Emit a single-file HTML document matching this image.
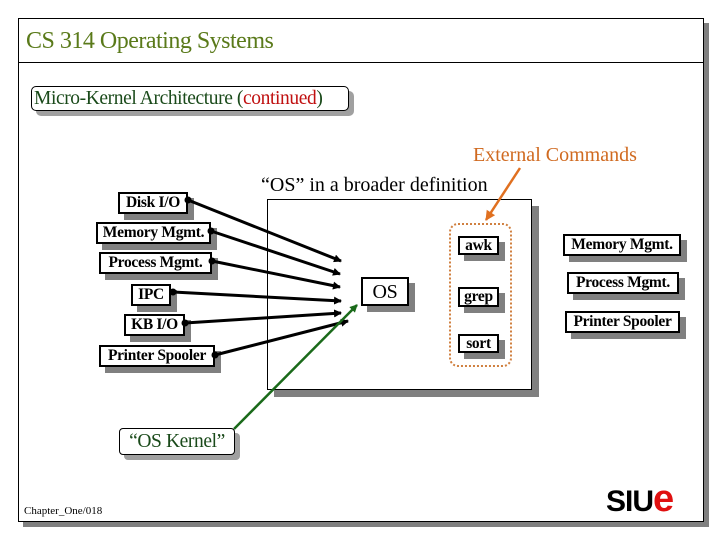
<!DOCTYPE html>
<html><head><meta charset="utf-8"><style>
body{margin:0;width:720px;height:540px;background:#fff;position:relative;overflow:hidden;font-family:"Liberation Serif",serif;}
.a{position:absolute;box-sizing:border-box;}
.bx{position:absolute;box-sizing:border-box;border:2px solid #000;background:#fff;box-shadow:6px 6px 0 #808080;font-weight:bold;font-size:15.5px;text-align:center;white-space:nowrap;line-height:17px;letter-spacing:-0.3px;}
</style></head><body>
<div class="a" style="left:18px;top:18px;width:686px;height:504px;border:1px solid #000;box-shadow:5px 5px 0 #808080;background:#fff"></div>
<div class="a" style="left:18px;top:62px;width:686px;height:1px;background:#000"></div>
<div class="a" style="left:26px;top:28px;font-size:24px;color:#5a7a1a;white-space:nowrap;letter-spacing:-0.5px">CS 314 Operating Systems</div>
<div class="a" style="left:31px;top:86px;width:318px;height:25px;border:1px solid #000;border-radius:5px;background:#fff;box-shadow:5px 5px 0 #a0a0a0;font-size:19.5px;color:#1a4a1a;white-space:nowrap;padding-left:2px;line-height:23px;letter-spacing:-0.4px">Micro-Kernel Architecture (<span style="color:#c01010">continued</span>)</div>
<div class="a" style="left:473px;top:144px;font-size:20px;color:#d06a20;white-space:nowrap">External Commands</div>
<div class="a" style="left:261px;top:174px;font-size:20px;white-space:nowrap">“OS” in a broader definition</div>

<div class="a" style="left:267px;top:199px;width:265px;height:191px;border:1px solid #000;background:#fff;box-shadow:7px 7px 0 #808080"></div>
<div class="a" style="left:449px;top:223px;width:63px;height:144px;border:2px dotted #d08040;border-radius:9px"></div>

<div class="bx" style="left:118px;top:192px;width:70px;height:22px">Disk I/O</div>
<div class="bx" style="left:96px;top:222px;width:115px;height:22px">Memory Mgmt.</div>
<div class="bx" style="left:99px;top:252px;width:113px;height:22px">Process Mgmt.</div>
<div class="bx" style="left:131px;top:284px;width:40px;height:22px">IPC</div>
<div class="bx" style="left:124px;top:314px;width:61px;height:22px">KB I/O</div>
<div class="bx" style="left:99px;top:345px;width:116px;height:22px">Printer Spooler</div>

<div class="bx" style="left:361px;top:277px;width:48px;height:29px;font-weight:normal;font-size:20px;line-height:26px">OS</div>
<div class="bx" style="left:458px;top:236px;width:41px;height:19px;line-height:15px">awk</div>
<div class="bx" style="left:458px;top:287px;width:41px;height:20px;line-height:16px">grep</div>
<div class="bx" style="left:458px;top:334px;width:41px;height:19px;line-height:15px">sort</div>

<div class="bx" style="left:563px;top:234px;width:118px;height:22px">Memory Mgmt.</div>
<div class="bx" style="left:567px;top:272px;width:112px;height:22px">Process Mgmt.</div>
<div class="bx" style="left:565px;top:311px;width:115px;height:22px">Printer Spooler</div>

<div class="a" style="left:119px;top:428px;width:116px;height:27px;border:1px solid #000;border-radius:4px;background:#fff;box-shadow:5px 5px 0 #a0a0a0;font-size:19.5px;color:#1a4a1a;text-align:center;line-height:25px;white-space:nowrap;letter-spacing:-0.4px">“OS Kernel”</div>

<svg class="a" style="left:0;top:0" width="720" height="540">
<defs>
<marker id="k" markerWidth="8" markerHeight="8" refX="7" refY="4" orient="auto" markerUnits="userSpaceOnUse"><path d="M0,0L8,4L0,8z" fill="#000"/></marker>
<marker id="g" markerWidth="8" markerHeight="8" refX="7" refY="4" orient="auto" markerUnits="userSpaceOnUse"><path d="M0,0L8,4L0,8z" fill="#1a6a1a"/></marker>
<marker id="o" markerWidth="10" markerHeight="10" refX="9" refY="5" orient="auto" markerUnits="userSpaceOnUse"><path d="M0,0L10,5L0,10z" fill="#e07020"/></marker>
</defs>
<g stroke="#000" stroke-width="3" marker-end="url(#k)">
<line x1="188" y1="200" x2="341" y2="261"/>
<line x1="211" y1="231" x2="340" y2="274"/>
<line x1="212" y1="261" x2="340" y2="287"/>
<line x1="173" y1="292" x2="341" y2="301"/>
<line x1="185" y1="323" x2="341" y2="313"/>
<line x1="215" y1="355" x2="348" y2="321"/>
</g>
<g fill="#000"><circle cx="188" cy="200" r="3.5"/><circle cx="211" cy="231" r="3.5"/><circle cx="212" cy="261" r="3.5"/><circle cx="173" cy="292" r="3.5"/><circle cx="185" cy="323" r="3.5"/><circle cx="215" cy="355" r="3.5"/></g>
<line x1="234" y1="429" x2="357" y2="305" stroke="#1a6a1a" stroke-width="2.5" marker-end="url(#g)"/>
<line x1="520" y1="168" x2="486" y2="220" stroke="#e07020" stroke-width="2.5" marker-end="url(#o)"/>
</svg>

<div class="a" style="left:24px;top:505px;font-size:11px;white-space:nowrap">Chapter_One/018</div>
<div class="a" style="left:606px;top:478px;font-family:'Liberation Sans',sans-serif;font-weight:bold;font-size:30px;white-space:nowrap;letter-spacing:-1px">SIU<span style="color:#e01010;font-size:38px">e</span></div>
</body></html>
